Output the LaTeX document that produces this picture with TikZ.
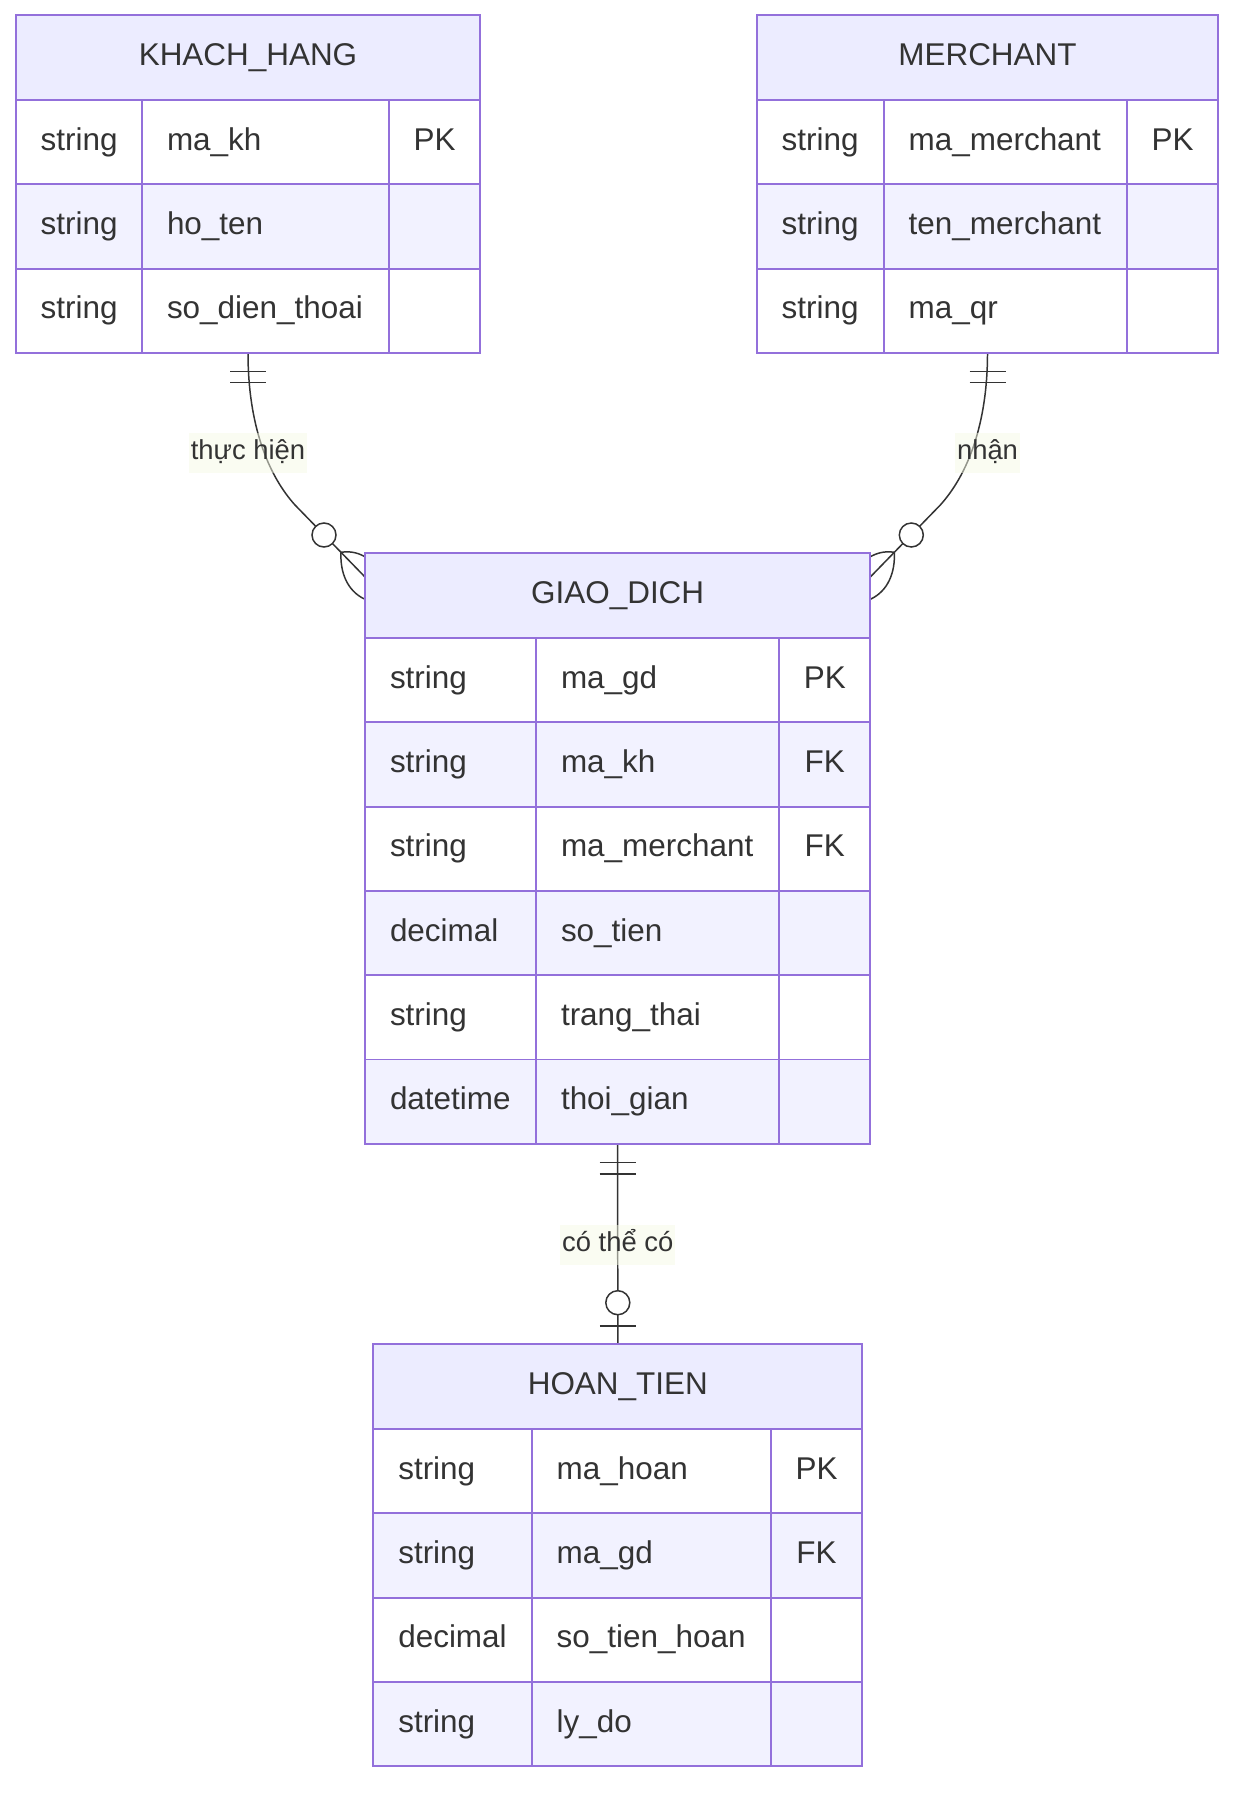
\documentclass[tikz,border=0pt]{standalone}
\usepackage{fontspec}
\setmainfont{Liberation Sans}
\usetikzlibrary{calc,positioning}

\definecolor{erborder}{HTML}{9370DB}
\definecolor{erheadbg}{HTML}{ECECFF}
\definecolor{errowbg}{HTML}{F2F2FF}
\definecolor{ertext}{HTML}{333333}
\definecolor{erlabelbg}{HTML}{F6FAE6}

\pgfdeclarelayer{bg}
\pgfsetlayers{bg,main}

\newcommand{\erpx}{0.02cm}

\tikzset{
  erbox/.style={draw=erborder, line width=1.1pt},
  ertxt/.style={inner sep=0pt, outer sep=0pt, text=ertext, font=\fontsize{17.9}{21}\selectfont,
    text height=12.8pt, text depth=3.7pt},
  erhead/.style={erbox, ertxt, fill=erheadbg, minimum height=85*\erpx},
  erlink/.style={draw=ertext, line width=0.85pt},
  erlabel/.style={fill=erlabelbg, fill opacity=0.5, text opacity=1, text=ertext,
    inner xsep=1pt, inner ysep=0pt, minimum height=40*\erpx,
    font=\fontsize{15.6}{18}\selectfont, text height=11.2pt, text depth=3.2pt},
}

% #1 name, #2 top left, #3-#5 column widths, #6 number of rows, #7 title, #8 rows
\newcommand{\ertable}[8]{%
  \begin{scope}[shift={#2}]
    \pgfmathsetmacro{\erw}{#3+#4+#5}
    \node[erhead, minimum width=\erw*\erpx, anchor=north west] (#1) at (0,0) {#7};
    \foreach \ty/\fn/\ky [count=\ri] in {#8} {
      \pgfmathsetmacro{\ery}{85+(\ri-1)*84.3}
      \ifodd\ri\relax \def\erfill{white}\else \def\erfill{errowbg}\fi
      \draw[erbox, fill=\erfill] (0,\ery) rectangle ++(\erw,84.3);
      \draw[erbox] (#3,\ery) -- ++(0,84.3) (#3+#4,\ery) -- ++(0,84.3);
      \node[ertxt, anchor=west] (#1-t\ri) at (25,\ery+42.15) {\ty};
      \node[ertxt, anchor=west] (#1-f\ri) at (#3+25,\ery+42.15) {\fn};
      \node[ertxt] (#1-k\ri) at (#3+#4+#5/2,\ery+42.15) {\ky};
    }
    \coordinate (#1-bot) at (\erw/2,85+#6*84.3);
  \end{scope}
}

\begin{document}
\begin{tikzpicture}[x=0.02cm, y=-0.02cm]
    \useasboundingbox (0,0) rectangle (1250,1804);

    % Entities
    \ertable{kh}{(15.7,15)}{126.3}{247}{91.3}{3}{KHACH\_HANG}%
      {string/ma\_kh/PK, string/ho\_ten/{}, string/so\_dien\_thoai/{}}
    \ertable{mer}{(756.7,15)}{127}{243}{91.6}{3}{MERCHANT}%
      {string/ma\_merchant/PK, string/ten\_merchant/{}, string/ma\_qr/{}}
    \ertable{gd}{(365,553)}{171}{243.3}{91}{6}{GIAO\_DICH}%
      {string/ma\_gd/PK, string/ma\_kh/FK, string/ma\_merchant/FK,
       decimal/so\_tien/{}, string/trang\_thai/{}, datetime/thoi\_gian/{}}
    \ertable{ht}{(373.3,1344)}{158.4}{239}{91.6}{4}{HOAN\_TIEN}%
      {string/ma\_hoan/PK, string/ma\_gd/FK, decimal/so\_tien\_hoan/{}, string/ly\_do/{}}

    % Where the links meet GIAO_DICH
    \coordinate (gdL) at ($(gd.north west)+(0,24)$);
    \coordinate (gdR) at ($(gd.north east)+(0,24)$);

    \begin{pgfonlayer}{bg}
      \fill[white] (0,0) rectangle (1250,1804);

      % KHACH_HANG ||--o{ GIAO_DICH
      \draw[erlink] (kh-bot) .. controls +(0,72) and +(-27,-30) .. ($(gdL)+(-70,-72)$) -- (gdL);
      \foreach \d in {18.5,29.5} \draw[erlink] ($(kh-bot)+(-18,\d)$) -- +(36,0);
      \begin{scope}[shift={(gdL)}]
        \draw[erlink, fill=white] (-41,-42) circle (0.24cm);
        \draw[erlink] (-24,-24.7) .. controls (-13,-26.5) and (-5,-23) .. (0,-20.3)
                      (-24,-24.7) .. controls (-25,-5) and (-18,14) .. (0,22.3);
      \end{scope}
      \node[erlabel] (lbl-kh) at ($(kh-bot)+(0,100)$) {thực hiện};

      % MERCHANT ||--o{ GIAO_DICH
      \draw[erlink] (mer-bot) .. controls +(0,72) and +(27,-30) .. ($(gdR)+(70,-72)$) -- (gdR);
      \foreach \d in {18.5,29.5} \draw[erlink] ($(mer-bot)+(-18,\d)$) -- +(36,0);
      \begin{scope}[shift={(gdR)}, xscale=-1]
        \draw[erlink, fill=white] (-41,-42) circle (0.24cm);
        \draw[erlink] (-24,-24.7) .. controls (-13,-26.5) and (-5,-23) .. (0,-20.3)
                      (-24,-24.7) .. controls (-25,-5) and (-18,14) .. (0,22.3);
      \end{scope}
      \node[erlabel] (lbl-mer) at ($(mer-bot)+(0,100)$) {nhận};

      % GIAO_DICH ||--o| HOAN_TIEN
      \draw[erlink] (gd-bot) -- (ht.north);
      \foreach \d in {18.7,30} \draw[erlink] ($(gd-bot)+(-18,\d)$) -- +(36,0);
      \draw[erlink] ($(ht.north)+(-18,-18)$) -- +(36,0);
      \draw[erlink, fill=white] ($(ht.north)+(0,-41.3)$) circle (0.24cm);
      \node[erlabel] (lbl-gd) at ($(gd-bot)!0.505!(ht.north)$) {có thể có};
    \end{pgfonlayer}
\end{tikzpicture}
\end{document}
